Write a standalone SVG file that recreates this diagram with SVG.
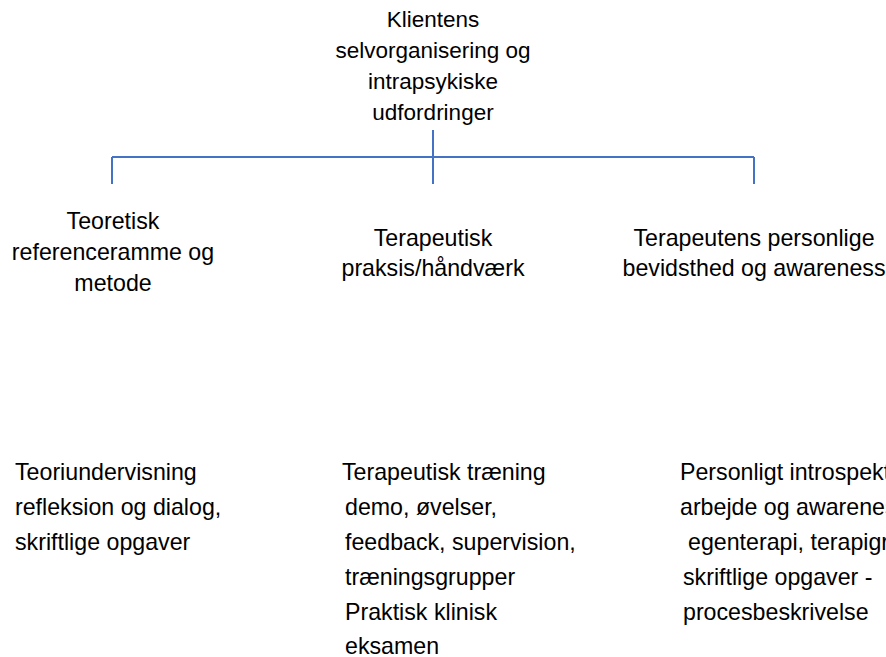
<svg xmlns="http://www.w3.org/2000/svg" width="886" height="657" viewBox="0 0 886 657">
<style>
text{font-family:"Liberation Sans",Arial,sans-serif;font-size:23.2px;fill:#000}
.t{font-size:22.5px}
.c{text-anchor:middle}
.conn{stroke:#4472C4;stroke-width:2;fill:none}
</style>
<rect width="886" height="657" fill="#fff"/>
<g id="connectors">
<path class="conn" d="M433 130V184M112 157H754M112 157V184M754 157V184"/>
</g>
<g id="root">
<text class="c t" x="433" y="27">Klientens</text>
<text class="c t" x="433" y="58">selvorganisering og</text>
<text class="c t" x="433" y="89">intrapsykiske</text>
<text class="c t" x="433" y="120">udfordringer</text>
</g>
<g id="teoretisk">
<text class="c" x="113" y="229">Teoretisk</text>
<text class="c" x="113" y="260">referenceramme og</text>
<text class="c" x="113" y="291">metode</text>
</g>
<g id="terapeutisk">
<text class="c" x="433" y="246">Terapeutisk</text>
<text class="c" x="433" y="276">praksis/håndværk</text>
</g>
<g id="personlige">
<text class="c" x="754" y="246">Terapeutens personlige</text>
<text class="c" x="754" y="276">bevidsthed og awareness</text>
</g>
<g id="teori-aktiviteter">
<text x="15" y="480">Teoriundervisning</text>
<text x="15" y="515">refleksion og dialog,</text>
<text x="15" y="550">skriftlige opgaver</text>
</g>
<g id="praksis-aktiviteter">
<text x="342" y="480">Terapeutisk træning</text>
<text x="345" y="515">demo, øvelser,</text>
<text x="345" y="550">feedback, supervision,</text>
<text x="345" y="585">træningsgrupper</text>
<text x="345" y="620">Praktisk klinisk</text>
<text x="345" y="654">eksamen</text>
</g>
<g id="personlige-aktiviteter">
<text x="680" y="480">Personligt introspekt</text>
<text x="680" y="515">arbejde og awareness</text>
<text x="688" y="550">egenterapi, terapigr</text>
<text x="683" y="585">skriftlige opgaver -</text>
<text x="683" y="620">procesbeskrivelse</text>
</g>
</svg>
